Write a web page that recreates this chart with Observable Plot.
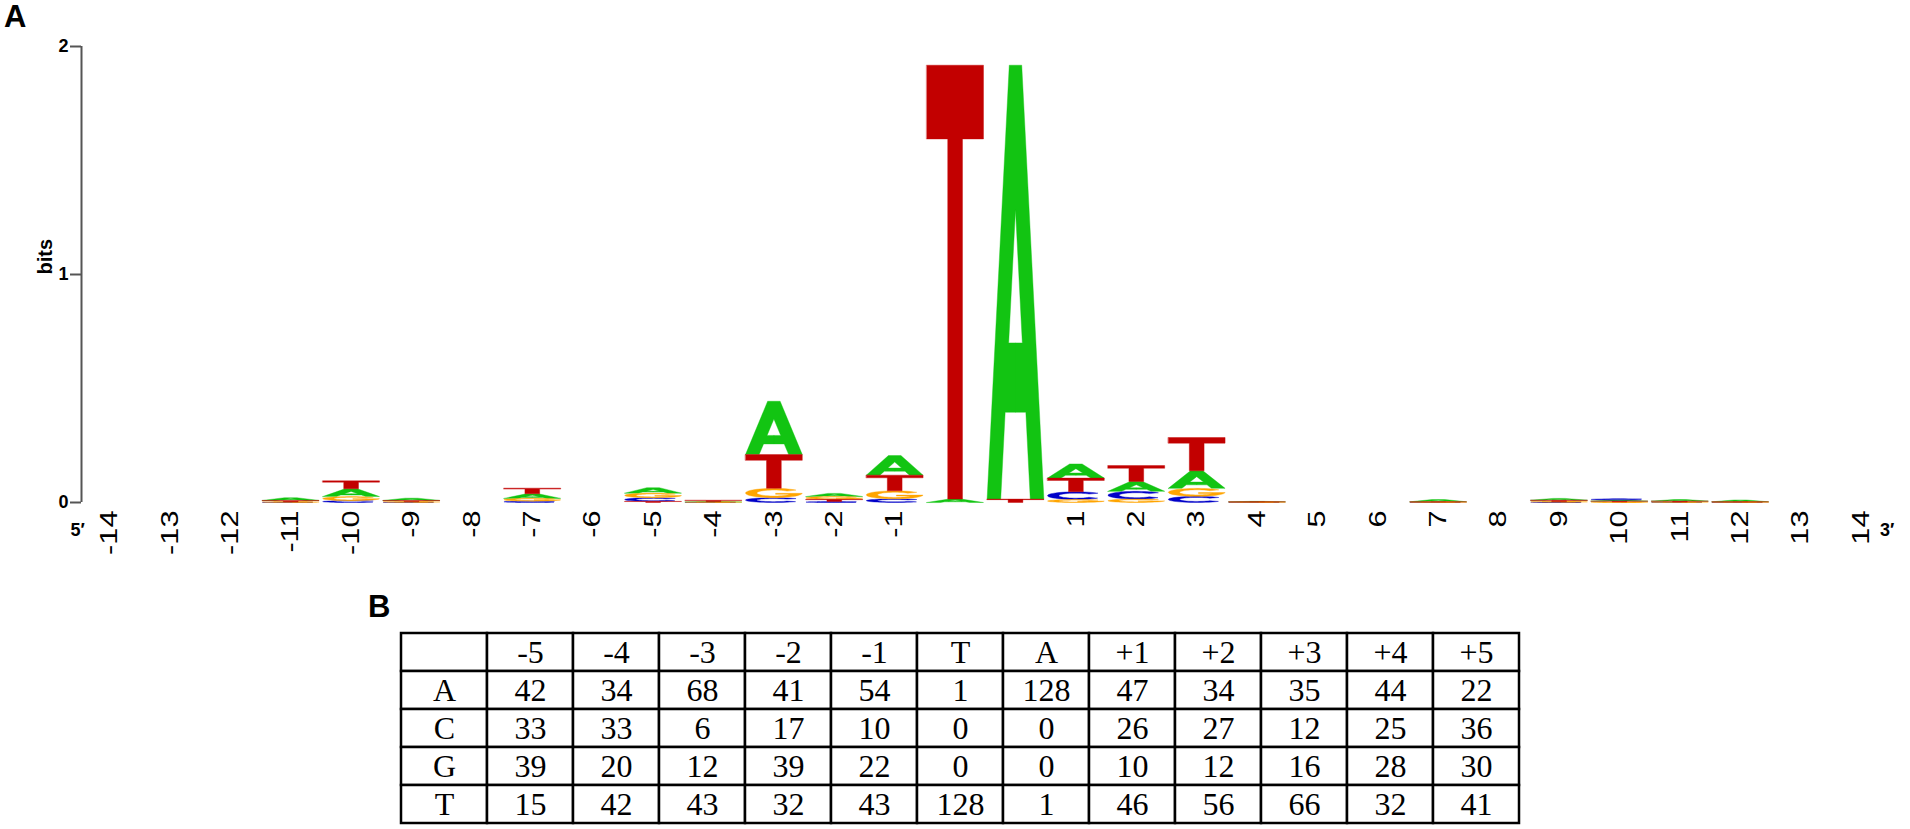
<!DOCTYPE html>
<html>
<head>
<meta charset="utf-8">
<script src="https://cdn.jsdelivr.net/npm/d3@7"></script>
<script src="https://cdn.jsdelivr.net/npm/@observablehq/plot@0.6"></script>
<style>
  body { margin: 0; background: #fff; }
  #wrap { position: relative; width: 1910px; height: 829px; overflow: hidden; background: #fff; }
  .panel { position: absolute; font-family: "Liberation Sans", Arial, sans-serif; font-weight: bold; line-height: 1; color: #000; }
</style>
</head>
<body>
<div id="wrap">
  <div id="logo" style="position:absolute;left:0;top:0"></div>
  <div id="table" style="position:absolute;left:0;top:575px"></div>
  <div class="panel" style="left:4px;top:1px;font-size:31px">A</div>
  <div class="panel" style="left:368px;top:591px;font-size:31px">B</div>
</div>
<script>
// ---------- Panel A: sequence logo data (letter heights in bits) ----------
const positions = ["-14","-13","-12","-11","-10","-9","-8","-7","-6","-5","-4","-3","-2","-1","T","A","1","2","3","4","5","6","7","8","9","10","11","12","13","14"];
const xTickLabels = ["-14","-13","-12","-11","-10","-9","-8","-7","-6","-5","-4","-3","-2","-1","","","1","2","3","4","5","6","7","8","9","10","11","12","13","14"];
const heightA = [0,0,0,0.012,0.034,0.010,0,0.020,0,0.024,0.002,0.234,0.014,0.086,0.015,1.903,0.062,0.043,0.077,0.002,0,0,0.010,0,0.008,0.005,0.007,0.008,0,0];
const heightC = [0,0,0,0.001,0.008,0.001,0,0.006,0,0.016,0.001,0.021,0.004,0.016,0,0,0.034,0.034,0.027,0.001,0,0,0.001,0,0.002,0.005,0.001,0.001,0,0];
const heightG = [0,0,0,0.002,0.018,0.003,0,0.012,0,0.020,0.001,0.041,0.012,0.035,0,0,0.013,0.015,0.035,0.001,0,0,0.001,0,0.002,0.002,0.001,0.001,0,0];
const heightT = [0,0,0,0.006,0.035,0.005,0,0.025,0,0.005,0.006,0.148,0.010,0.069,1.903,0.015,0.060,0.070,0.146,0.001,0,0,0.001,0,0.006,0.004,0.004,0.001,0,0];
const yTicks = [0, 1, 2];
const letters = ["A", "C", "G", "T"];
const letterColors = { A: "#12c412", C: "#0000c8", G: "#ffa500", T: "#c20000" };

// ---------- Panel B: count table ----------
const tableColumns = ["-5","-4","-3","-2","-1","T","A","+1","+2","+3","+4","+5"];
const tableRows = ["A","C","G","T"];
const countA = [42,34,68,41,54,1,128,47,34,35,44,22];
const countC = [33,33,6,17,10,0,0,26,27,12,25,36];
const countG = [39,20,12,39,22,0,0,10,12,16,28,30];
const countT = [15,42,43,32,43,128,1,46,56,66,32,41];

// ---------- glyph outlines in a unit box (u right, v up) ----------
function arc(cx, cy, rx, ry, a0, a1, step) {
  const pts = [];
  const n = Math.max(2, Math.round(Math.abs(a1 - a0) / step));
  for (let k = 0; k <= n; k++) {
    const a = (a0 + (a1 - a0) * k / n) * Math.PI / 180;
    pts.push([cx + rx * Math.cos(a), cy + ry * Math.sin(a)]);
  }
  return pts;
}
const glyphs = {
  T: [[[0,1],[1,1],[1,0.83],[0.63,0.83],[0.63,0],[0.37,0],[0.37,0.83],[0,0.83]]],
  A: [[[0,0],[0.39,1],[0.61,1],[1,0],[0.76,0],[0.682,0.2],[0.5,0.2],[0.5,0.36],[0.62,0.36],[0.5,0.667],[0.38,0.36],[0.5,0.36],[0.5,0.2],[0.318,0.2],[0.24,0]]],
  C: [arc(0.5,0.5,0.5,0.5,40,320,8).concat(arc(0.5,0.5,0.3,0.32,320,40,8))],
  G: [arc(0.5,0.5,0.5,0.5,40,350,8)
        .concat([[1,0.47],[0.53,0.47],[0.53,0.36],[0.79,0.36]])
        .concat(arc(0.5,0.5,0.3,0.32,338,40,8))]
};
const heights = { A: heightA, C: heightC, G: heightG, T: heightT };
const halfW = 0.47;
const xMin = -28 / 60.4;   // left edge of the plotting frame, in position units

const polys = [];
positions.forEach((p, i) => {
  const stack = letters.map(L => ({ L, h: heights[L][i] })).filter(d => d.h > 0).sort((a, b) => a.h - b.h);
  let base = 0;
  stack.forEach(({ L, h }) => {
    glyphs[L].forEach((shape, s) => {
      const id = i + "-" + L + "-" + s;
      shape.forEach(([u, v]) => polys.push({ letter: L, id, x: i - halfW + 2 * halfW * u, y: base + v * h }));
    });
    base += h;
  });
});

const logo = Plot.plot({
  width: 1910,
  height: 575,
  marginLeft: 81,
  marginRight: 19.2,
  marginTop: 46,
  marginBottom: 73,
  x: { domain: [xMin, 29.5], axis: null },
  y: { domain: [0, 2], axis: null },
  style: { fontFamily: "Liberation Sans, Arial, sans-serif", background: "white", color: "#000", overflow: "visible" },
  marks: [
    ...letters.map(L => Plot.line(polys.filter(d => d.letter === L), {
      x: "x", y: "y", z: "id", curve: "linear-closed",
      fill: letterColors[L], stroke: letterColors[L], strokeWidth: 0.4
    })),
    Plot.text(xTickLabels, {
      x: (d, i) => i, text: d => d, frameAnchor: "bottom", dy: 8,
      rotate: -90, textAnchor: "end", lineAnchor: "middle", fontSize: 24, fill: "#000"
    }),
    Plot.ruleX([xMin], { y1: 0, y2: 2, stroke: "#555", strokeWidth: 2 }),
    Plot.axisY(yTicks, { anchor: "left", tickSize: 11, tickPadding: 2, fontSize: 18, fontWeight: "bold", stroke: "#555", strokeWidth: 2, label: null, tickFormat: d => String(d) }),
    Plot.text(["bits"], { frameAnchor: "left", dx: -36, rotate: -90, fontWeight: "bold", fontSize: 20 }),
    Plot.text(["5\u2032"], { frameAnchor: "bottom-left", dx: -11, dy: 33, fontWeight: "bold", fontSize: 18 }),
    Plot.text(["3\u2032"], { frameAnchor: "bottom-right", dx: 3, dy: 33, fontWeight: "bold", fontSize: 18 })
  ]
});
// stretch the rotated position labels along their length (as in the reference)
const textGroups = logo.querySelectorAll('g[aria-label="text"]');
if (textGroups.length) {
  textGroups[0].querySelectorAll("text").forEach(t => {
    const tr = t.getAttribute("transform");
    if (tr) t.setAttribute("transform", tr + " scale(1.28,1)");
  });
}
document.getElementById("logo").appendChild(logo);

// ---------- table as a cell grid ----------
const colKeys = ["label", ...tableColumns];
const rowKeys = ["head", ...tableRows];
const counts = { A: countA, C: countC, G: countG, T: countT };
const cells = [];
colKeys.forEach((c, j) => {
  cells.push({ col: c, row: "head", text: j === 0 ? "" : c });
});
tableRows.forEach(r => {
  cells.push({ col: "label", row: r, text: r });
  tableColumns.forEach((c, j) => cells.push({ col: c, row: r, text: String(counts[r][j]) }));
});

const table = Plot.plot({
  width: 1910,
  height: 254,
  marginLeft: 396,
  marginRight: 387,
  marginTop: 56,
  marginBottom: 4,
  x: { domain: colKeys, axis: null, padding: 0 },
  y: { domain: rowKeys, axis: null, padding: 0 },
  style: { background: "white", color: "#000", overflow: "visible" },
  marks: [
    Plot.cell(cells, { x: "col", y: "row", fill: "white", stroke: "#000", strokeWidth: 2.5 }),
    Plot.text(cells, { x: "col", y: "row", text: "text", fontSize: 32, fontFamily: "Liberation Serif, DejaVu Serif, serif", fill: "#000" })
  ]
});
document.getElementById("table").appendChild(table);
</script>
</body>
</html>
